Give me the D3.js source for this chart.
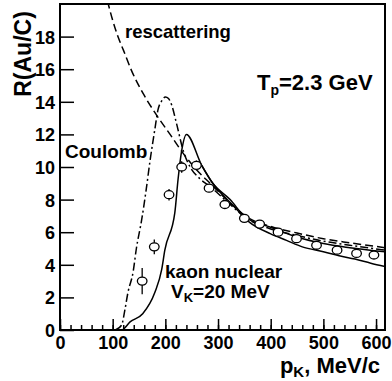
<!DOCTYPE html>
<html>
<head>
<meta charset="utf-8">
<script src="https://cdn.jsdelivr.net/npm/d3@7"></script>
<style>
body { margin: 0; background: #fff; }
text { font-family: "Liberation Sans", Arial, sans-serif; font-weight: bold; fill: #000; }
</style>
</head>
<body>
<div id="chart"></div>
<script>
// measured points
var pData = [156, 179, 207, 231, 259, 283, 313, 350, 379, 414, 449, 487, 526, 563, 596];
var rData = [3.0, 5.1, 8.3, 10.0, 10.1, 8.7, 7.7, 6.85, 6.5, 6.0, 5.6, 5.2, 4.9, 4.7, 4.6];
var rErr  = [0.8, 0.45, 0.35, 0.35, 0.3, 0.25, 0.2, 0.2, 0.2, 0.2, 0.2, 0.2, 0.2, 0.2, 0.2];

// rescattering (dashed)
var pResc = [90, 100, 110, 120, 136, 158, 183, 209, 237, 260, 285, 323, 354, 400, 450, 500, 550, 617];
var rResc = [20.2, 19.0, 18.0, 17.2, 15.9, 14.5, 13.2, 12.0, 10.7, 9.8, 9.0, 7.8, 6.95, 6.35, 5.95, 5.6, 5.35, 5.05];

// Coulomb (dash-dot)
var pCoul = [105, 117, 123, 129, 139, 145, 155, 164, 171, 180, 186, 194, 200, 206, 212, 221, 234, 247, 265, 285, 323, 354, 400, 450, 500, 550, 617];
var rCoul = [0, 0.3, 1.2, 2.3, 3.6, 5.0, 6.75, 8.7, 10.4, 12.3, 13.5, 14.1, 14.3, 14.2, 13.8, 12.7, 11.0, 10.0, 9.3, 8.8, 7.7, 6.85, 6.2, 5.8, 5.45, 5.2, 4.9];

// kaon nuclear (solid, two branches)
var pKaon1 = [110, 117, 133, 157, 180, 193, 199, 218, 224, 231, 240, 269, 290, 323, 351, 400, 450, 500, 550, 617];
var rKaon1 = [0, 0, 0.5, 1.0, 2.3, 3.7, 4.9, 7.2, 9.2, 11.0, 12.0, 10.1, 9.0, 8.0, 6.95, 6.3, 5.7, 5.3, 5.05, 4.8];
var pKaon2 = [269, 290, 330, 360, 400, 430, 460, 500, 530, 560, 590, 617];
var rKaon2 = [10.1, 9.0, 7.6, 6.6, 5.9, 5.5, 5.1, 4.8, 4.55, 4.35, 4.1, 3.9];

var xMajor = [0, 100, 200, 300, 400, 500, 600];
var yMajor = [0, 2, 4, 6, 8, 10, 12, 14, 16, 18];

var w = 392, h = 381;
var padL = 60, padR = 385, padT = 4, padB = 330;

var svg = d3.select("#chart").append("svg")
    .attr("width", w)
    .attr("height", h);

var xScale = d3.scaleLinear().domain([0, 617]).range([padL, padR]);
var yScale = d3.scaleLinear().domain([0, 20]).range([padB, padT]);

svg.append("clipPath").attr("id", "clip")
  .append("rect")
    .attr("x", padL).attr("y", padT)
    .attr("width", padR - padL).attr("height", padB - padT);

var line = d3.line()
    .x(function(d) { return xScale(d[0]); })
    .y(function(d) { return yScale(d[1]); })
    .curve(d3.curveMonotoneX);

function pairs(ps, rs) { return ps.map(function(p, i) { return [p, rs[i]]; }); }

var curves = svg.append("g").attr("clip-path", "url(#clip)");

curves.append("path").datum(pairs(pResc, rResc))
    .attr("d", line).attr("fill", "none").attr("stroke", "#000")
    .attr("stroke-width", 1.5).attr("stroke-dasharray", "8,4");

curves.append("path").datum(pairs(pCoul, rCoul))
    .attr("d", line).attr("fill", "none").attr("stroke", "#000")
    .attr("stroke-width", 1.5).attr("stroke-dasharray", "8,3,2,3");

curves.append("path").datum(pairs(pKaon1, rKaon1))
    .attr("d", line).attr("fill", "none").attr("stroke", "#000")
    .attr("stroke-width", 1.5);

curves.append("path").datum(pairs(pKaon2, rKaon2))
    .attr("d", line).attr("fill", "none").attr("stroke", "#000")
    .attr("stroke-width", 1.5);

// data points with error bars
var pts = svg.append("g");
pts.selectAll("line.err").data(pData).enter().append("line")
    .attr("class", "err")
    .attr("x1", function(d) { return xScale(d); })
    .attr("x2", function(d) { return xScale(d); })
    .attr("y1", function(d, i) { return yScale(rData[i] - rErr[i]); })
    .attr("y2", function(d, i) { return yScale(rData[i] + rErr[i]); })
    .attr("stroke", "#000").attr("stroke-width", 1.3);
pts.selectAll("ellipse").data(pData).enter().append("ellipse")
    .attr("cx", function(d) { return xScale(d); })
    .attr("cy", function(d, i) { return yScale(rData[i]); })
    .attr("rx", 4.8).attr("ry", 4)
    .attr("fill", "#fff").attr("stroke", "#000").attr("stroke-width", 1.3);

// axes
var xAxis = d3.axisBottom(xScale).tickValues(xMajor).tickSizeInner(-11).tickSizeOuter(0).tickPadding(6);
var xMinor = d3.axisBottom(xScale).tickValues(d3.range(0, 601, 20)).tickSizeInner(-5).tickSizeOuter(0).tickFormat("");
var yAxis = d3.axisLeft(yScale).tickValues(yMajor).tickSizeInner(-14).tickSizeOuter(0).tickPadding(5);

var gx = svg.append("g").attr("transform", "translate(0," + padB + ")").call(xAxis);
var gxm = svg.append("g").attr("transform", "translate(0," + padB + ")").call(xMinor);
var gy = svg.append("g").attr("transform", "translate(" + padL + ",0)").call(yAxis);

[gx, gxm, gy].forEach(function(g) {
    g.select(".domain").remove();
    g.selectAll(".tick line").attr("stroke", "#000").attr("stroke-width", 1.5);
});
gx.selectAll("text").style("font-size", "18px").attr("dy", "0.7em");
gy.selectAll("text").style("font-size", "18px").attr("dy", "0.36em");

// frame
svg.append("rect")
    .attr("x", padL).attr("y", padT)
    .attr("width", padR - padL).attr("height", padB - padT)
    .attr("fill", "none").attr("stroke", "#000").attr("stroke-width", 2);

// axis titles
var xt = svg.append("text").attr("x", 380).attr("y", 373)
    .attr("text-anchor", "end").style("font-size", "22px");
xt.append("tspan").text("p");
xt.append("tspan").attr("dy", 4).style("font-size", "15px").text("K");
xt.append("tspan").attr("dy", -4).text(", MeV/c");

svg.append("text")
    .attr("transform", "translate(31,54) rotate(-90)")
    .attr("text-anchor", "middle").style("font-size", "23px")
    .text("R(Au/C)");

// annotations
svg.append("text").attr("x", 125).attr("y", 38).style("font-size", "18.5px").text("rescattering");

var tp = svg.append("text").attr("x", 257).attr("y", 90).style("font-size", "22px");
tp.append("tspan").text("T");
tp.append("tspan").attr("dy", 5).style("font-size", "14px").text("p");
tp.append("tspan").attr("dy", -5).text("=2.3 GeV");

svg.append("text").attr("x", 65).attr("y", 158).style("font-size", "19px").text("Coulomb");
svg.append("text").attr("x", 165).attr("y", 278).style("font-size", "19px").text("kaon nuclear");

var vk = svg.append("text").attr("x", 171).attr("y", 298).style("font-size", "19px");
vk.append("tspan").text("V");
vk.append("tspan").attr("dy", 4).style("font-size", "13px").text("K");
vk.append("tspan").attr("dy", -4).text("=20 MeV");
</script>
</body>
</html>
